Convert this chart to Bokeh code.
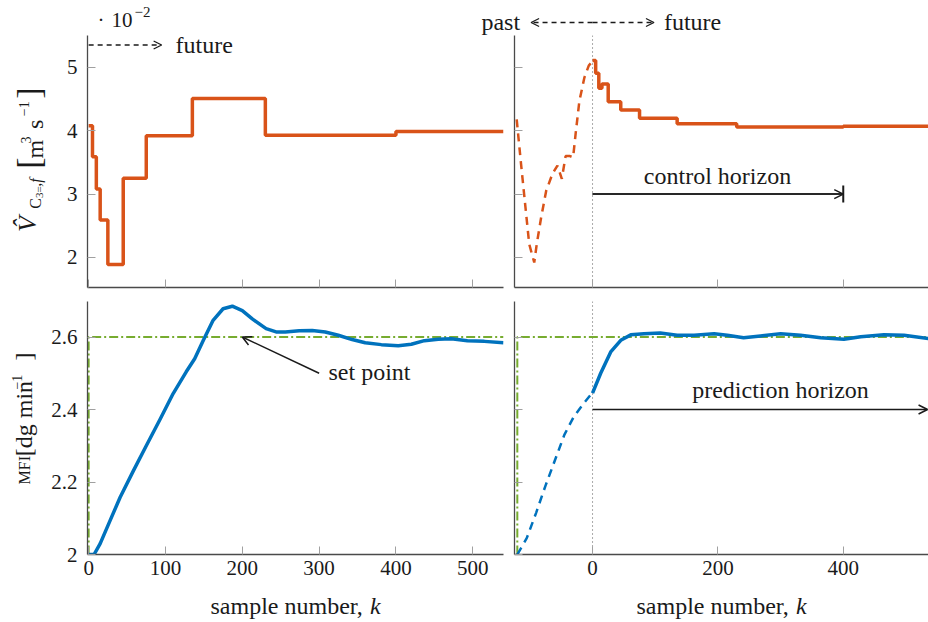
import numpy as np
from bokeh.plotting import figure
from bokeh.layouts import column, row
from bokeh.models import (Range1d, FixedTicker, NumeralTickFormatter, CustomJSTickFormatter,
                          Label, Arrow, OpenHead, TeeHead, Span)
from bokeh.embed import file_html
from bokeh.resources import INLINE

# ---------------- data ----------------
# move-blocking instants of the C3= flow (sample number) and closed-loop flow (1e-2 m^3/s)
block_k = [0, 5, 10, 15, 25, 45, 75, 135, 230, 400, 540]
flow_closed = [4.08, 3.59, 3.08, 2.59, 1.89, 3.25, 3.92, 4.51, 3.93, 3.99, 3.99]

# planned flow over the control horizon
plan_block_k = [0, 5, 10, 15, 25, 45, 75, 135, 230, 400, 536]
flow_plan = [5.11, 4.91, 4.67, 4.74, 4.46, 4.33, 4.20, 4.11, 4.06, 4.07, 4.07]

# applied flow in the past window
flow_past_k = [-121, -114, -107, -101, -93, -89, -82, -74, -64, -56, -49, -43,
               -36, -31, -27, -21, -13, -6, 0]
flow_past = [4.18, 3.47, 2.79, 2.21, 1.92, 2.21, 2.63, 3.05, 3.32, 3.45, 3.24, 3.60,
             3.60, 3.58, 3.95, 4.47, 4.84, 5.03, 5.10]

# closed-loop melt flow index (dg/min)
mfi_k = [0, 7, 15, 28, 41, 58, 75, 93, 110, 127, 138, 149, 162, 175, 187, 200, 213,
         231, 244, 256, 274, 291, 308, 325, 343, 360, 381, 403, 420, 437, 455, 472,
         493, 515, 540]
mfi_closed = [2.0, 2.0, 2.03, 2.094, 2.158, 2.23, 2.30, 2.373, 2.444, 2.504, 2.54,
              2.59, 2.646, 2.678, 2.685, 2.673, 2.65, 2.623, 2.614, 2.614, 2.617,
              2.618, 2.614, 2.605, 2.593, 2.584, 2.579, 2.576, 2.58, 2.59, 2.594,
              2.595, 2.59, 2.588, 2.584]

# measured MFI in the past window and predicted MFI over the prediction horizon
mfi_past_k = [-120, -105, -90, -75, -60, -45, -30, -15, 0]
mfi_past = [2.0, 2.045, 2.115, 2.19, 2.26, 2.33, 2.38, 2.415, 2.447]
mfi_plan_k = [0, 13, 29, 45, 61, 82, 108, 135, 162, 194, 215, 241, 268, 300, 332,
              364, 401, 428, 465, 497, 536]
mfi_plan = [2.445, 2.5, 2.559, 2.591, 2.606, 2.609, 2.611, 2.605, 2.605, 2.609, 2.605,
            2.598, 2.603, 2.609, 2.605, 2.598, 2.594, 2.601, 2.606, 2.605, 2.596]

# set-point trajectories
sp_closed_k = [0, 0, 540]
sp_pred_k = [-120, -120, 536]
sp_value = [2.0, 2.6, 2.6]

x_ticks_closed = [0, 100, 200, 300, 400, 500]
x_ticks_pred = [0, 200, 400]
y_ticks_flow = [2, 3, 4, 5]
y_ticks_mfi = [2.0, 2.2, 2.4, 2.6]

# ---------------- styling / geometry ----------------
FONT = "Liberation Serif"
INK = "#1a1a1a"
ORANGE = "#D95319"
BLUE = "#0072BD"
GREEN = "#77AC30"
AXIS = "#4a4a4a"
TICK = "#a0a0a0"

PAGE_W, PAGE_H = 928, 622
HEADER_H = 35          # strip above the top panels
TITLE_W = 48           # strip left of the panels holding the y-axis titles
FOOTER_Y = 590         # strip below the panels holding the x-axis titles
COL_SPLIT = 508
ROW_SPLIT = 294
FRAME_X = [(87, 503), (514, 928)]
FRAME_Y = [(35, 287), (301, 554)]
X_RANGES = [(-1.5, 540), (-124.5, 536)]
Y_RANGES = [(1.525, 5.505), (2.0, 2.698)]
ROT = np.pi / 2


def to_data(px, py, col, rw):
    """Page pixel -> data coordinates of panel (col, rw)."""
    fx, fy = FRAME_X[col], FRAME_Y[rw]
    xr, yr = X_RANGES[col], Y_RANGES[rw]
    x = xr[0] + (px - fx[0]) * (xr[1] - xr[0]) / (fx[1] - fx[0])
    y = yr[1] - (py - fy[0]) * (yr[1] - yr[0]) / (fy[1] - fy[0])
    return x, y


def pix_fig(x0, y0, w, h):
    """Axis-less strip whose data coordinates are page pixels."""
    p = figure(width=w, height=h, x_range=Range1d(x0, x0 + w), y_range=Range1d(y0 + h, y0),
               min_border=0, x_axis_location=None, y_axis_location=None,
               output_backend="svg", toolbar_location=None)
    p.outline_line_color = None
    p.grid.visible = False
    return p


def panel(col, rw, xticks, yticks, xlabels, ylabels):
    cx0, cx1 = (TITLE_W, COL_SPLIT) if col == 0 else (COL_SPLIT, PAGE_W)
    cy0, cy1 = (HEADER_H, ROW_SPLIT) if rw == 0 else (ROW_SPLIT, FOOTER_Y)
    fx, fy = FRAME_X[col], FRAME_Y[rw]
    p = figure(width=cx1 - cx0, height=cy1 - cy0,
               x_range=Range1d(*X_RANGES[col]), y_range=Range1d(*Y_RANGES[rw]),
               min_border_left=fx[0] - cx0, min_border_right=cx1 - fx[1],
               min_border_top=fy[0] - cy0, min_border_bottom=cy1 - fy[1],
               output_backend="svg", toolbar_location=None)
    p.outline_line_color = None
    p.grid.visible = False
    for ax in p.axis:
        ax.axis_line_color = AXIS
        ax.axis_line_width = 1.3
        ax.major_tick_in = 8
        ax.major_tick_out = 0
        ax.major_tick_line_color = TICK
        ax.major_tick_line_width = 1
        ax.minor_tick_line_color = None
        ax.major_label_text_font = FONT
        ax.major_label_text_font_size = "21px"
        ax.major_label_text_color = INK
    p.xaxis.ticker = FixedTicker(ticks=xticks)
    p.yaxis.ticker = FixedTicker(ticks=yticks)
    p.yaxis.formatter = NumeralTickFormatter(format="0.[0]")
    p.xaxis.major_label_standoff = 6
    p.yaxis.major_label_standoff = 10
    if not xlabels:
        p.xaxis.formatter = CustomJSTickFormatter(code="return ''")
        p.xaxis.major_label_text_font_size = "1px"
        p.xaxis.major_label_standoff = 0
    if not ylabels:
        p.yaxis.formatter = CustomJSTickFormatter(code="return ''")
        p.yaxis.major_label_text_font_size = "1px"
        p.yaxis.major_label_standoff = 0
    return p


def put(p, px, py, s, size=24, style="normal", align="left", rotated=False, to=None):
    """Place a text whose baseline anchor sits at page pixel (px, py).

    Rotated texts read bottom-to-top; their anchor is the start of the text."""
    shift = 0.28 * size          # pull the glyphs onto the requested baseline
    if rotated:
        px -= shift
    else:
        py -= shift
    x, y = (px, py) if to is None else to(px, py)
    p.add_layout(Label(x=x, y=y, text=s, text_font=FONT, text_font_size=f"{size}px",
                       text_font_style=style, text_align=align, text_baseline="alphabetic",
                       angle=ROT if rotated else 0.0, text_color=INK))


def in_panel(col, rw):
    return lambda px, py: to_data(px, py, col, rw)


def pred_k_to_px(k):
    xr, fx = X_RANGES[1], FRAME_X[1]
    return fx[0] + (k - xr[0]) * (fx[1] - fx[0]) / (xr[1] - xr[0])


# ---------------- header: scale factor and time-direction hints ----------------
head = pix_fig(0, 0, PAGE_W, HEADER_H)
put(head, 97, 25, "\u00b7", size=21)
put(head, 111, 25, "10", size=21)
put(head, 134, 16, "\u22122", size=15)
k0 = pred_k_to_px(0)
for k_end in (-98, 98):
    head.add_layout(Arrow(x_start=k0, y_start=22, x_end=pred_k_to_px(k_end), y_end=22,
                          line_color=INK, line_width=1.3, line_dash="5 4",
                          end=OpenHead(size=8, line_width=1.3, line_color=INK)))
put(head, pred_k_to_px(-98) - 11, 28.5, "past", align="right")
put(head, pred_k_to_px(98) + 10, 28.5, "future")

# ---------------- y-axis titles (pieces read bottom-to-top) ----------------
ytop = pix_fig(0, HEADER_H, TITLE_W, ROW_SPLIT - HEADER_H)
put(ytop, 34, 237, "V\u0302", size=26, style="italic", rotated=True)
put(ytop, 39, 213, "C", size=16, rotated=True)
put(ytop, 42, 202, "3=", size=11, rotated=True)
put(ytop, 39, 190.5, ",f", size=16, style="italic", rotated=True)
put(ytop, 38, 172, "[", size=34, rotated=True)
put(ytop, 41, 161.5, "m", size=24, rotated=True)
put(ytop, 29.5, 146, "3", size=14, rotated=True)
put(ytop, 41, 131, "s", size=24, rotated=True)
put(ytop, 27.5, 118, "\u22121", size=14, rotated=True)
put(ytop, 38, 100, "]", size=34, rotated=True)

ybot = pix_fig(0, ROW_SPLIT, TITLE_W, FOOTER_Y - ROW_SPLIT)
put(ybot, 28, 508, "MFI", size=16, rotated=True)
put(ybot, 30, 475, "[dg min", size=24, rotated=True)
put(ybot, 20, 397, "\u22121", size=14, rotated=True)
put(ybot, 30, 363, "]", size=24, rotated=True)

# ---------------- top left: closed-loop C3= flow ----------------
tl = panel(0, 0, x_ticks_closed, y_ticks_flow, False, True)
tl.step(block_k, flow_closed, mode="after", line_color=ORANGE, line_width=3.5)
y_hint = to_data(0, 44.5, 0, 0)[1]
tl.add_layout(Arrow(x_start=0, y_start=y_hint, x_end=95, y_end=y_hint,
                    line_color=INK, line_width=1.3, line_dash="5 4",
                    end=OpenHead(size=8, line_width=1.3, line_color=INK)))
put(tl, 175, 51, "future", to=in_panel(0, 0))

# ---------------- top right: past and planned flow ----------------
tr = panel(1, 0, x_ticks_pred, y_ticks_flow, False, False)
tr.add_layout(Span(location=0, dimension="height", line_color="#555555",
                   line_dash="1 3", line_width=1, level="underlay"))
tr.line(flow_past_k, flow_past, line_color=ORANGE, line_width=2.5, line_dash="8 6")
tr.step(plan_block_k, flow_plan, mode="after", line_color=ORANGE, line_width=3.5)
tr.add_layout(Arrow(x_start=0, y_start=3.0, x_end=400, y_end=3.0, line_color=INK,
                    line_width=1.5, end=OpenHead(size=9, line_width=1.5, line_color=INK)))
tr.add_layout(Arrow(x_start=0, y_start=3.0, x_end=400, y_end=3.0, line_color=INK,
                    line_width=1.5, end=TeeHead(size=17, line_width=2, line_color=INK)))
put(tr, 717, 182.5, "control horizon", align="center", to=in_panel(1, 0))

# ---------------- bottom left: closed-loop MFI ----------------
bl = panel(0, 1, x_ticks_closed, y_ticks_mfi, True, True)
bl.line(sp_closed_k, sp_value, line_color=GREEN, line_width=2, line_dash="9 3 2 3")
bl.line(mfi_k, mfi_closed, line_color=BLUE, line_width=3.5, line_join="round")
bl.add_layout(Arrow(x_start=300, y_start=2.5, x_end=200, y_end=2.6, line_color=INK,
                    line_width=1.5, end=OpenHead(size=9, line_width=1.5, line_color=INK)))
put(bl, 328, 378, "set point", to=in_panel(0, 1))

# ---------------- bottom right: past and predicted MFI ----------------
br = panel(1, 1, x_ticks_pred, y_ticks_mfi, True, False)
br.add_layout(Span(location=0, dimension="height", line_color="#555555",
                   line_dash="1 3", line_width=1, level="underlay"))
br.line(sp_pred_k, sp_value, line_color=GREEN, line_width=2, line_dash="9 3 2 3")
br.line(mfi_past_k, mfi_past, line_color=BLUE, line_width=2.5, line_dash="8 6")
br.line(mfi_plan_k, mfi_plan, line_color=BLUE, line_width=3.5, line_join="round")
br.add_layout(Arrow(x_start=0, y_start=2.4, x_end=534.5, y_end=2.4, line_color=INK,
                    line_width=1.5, end=OpenHead(size=9, line_width=1.5, line_color=INK)))
put(br, 780, 396, "prediction horizon", align="center", to=in_panel(1, 1))

# ---------------- x-axis titles ----------------
foot = pix_fig(0, FOOTER_Y, PAGE_W, PAGE_H - FOOTER_Y)
for col in (0, 1):
    cx = (FRAME_X[col][0] + FRAME_X[col][1]) / 2
    start = cx - 85
    put(foot, start, 612, "sample number,")
    put(foot, start + 159.5, 612, "k", style="italic")

layout = column(head, row(ytop, tl, tr), row(ybot, bl, br), foot)
html = file_html(layout, INLINE, "MPC prediction")
open("out.html", "w").write(html)
